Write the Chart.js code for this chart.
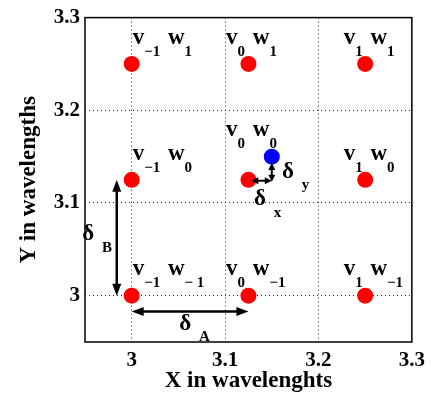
<!DOCTYPE html>
<html>
<head>
<meta charset="utf-8">
<script src="https://cdn.jsdelivr.net/npm/chart.js@4/dist/chart.umd.min.js"></script>
<style>
  html, body { margin: 0; padding: 0; background: #fff; }
  #wrap { width: 431px; height: 397px; }
</style>
</head>
<body>
<div id="wrap"><canvas id="c" width="431" height="397"></canvas></div>
<script>
// Lattice of candidate positions (red) and the true position (blue)
const redX = [3.0, 3.125, 3.25, 3.0, 3.125, 3.25, 3.0, 3.125, 3.25];
const redY = [3.25, 3.25, 3.25, 3.125, 3.125, 3.125, 3.0, 3.0, 3.0];
const blueX = [3.15];
const blueY = [3.15];

// Axis ticks
const tickValues = [3.0, 3.1, 3.2, 3.3];
const tickLabels = ['3', '3.1', '3.2', '3.3'];

// Point labels v_i w_j, anchored at the baseline start
const labelV = ['\u22121', '0', '1', '\u22121', '0', '1', '\u22121', '0', '1'];
const labelW = ['1', '1', '1', '0', '0', '0', '\u2212 1', '\u22121', '\u22121'];
const labelX = [3.001, 3.101, 3.227, 3.001, 3.101, 3.227, 3.001, 3.101, 3.227];
const labelY = [3.271, 3.271, 3.271, 3.146, 3.172, 3.146, 3.022, 3.022, 3.022];

// Double-headed spacing arrows (start / end)
const arrowX0 = [3.0, 2.984, 3.128, 3.15];
const arrowY0 = [2.983, 3.0, 3.124, 3.143];
const arrowX1 = [3.125, 2.984, 3.15, 3.15];
const arrowY1 = [2.983, 3.125, 3.124, 3.123];

// Delta labels
const deltaSub = ['A', 'B', 'x', 'y'];
const deltaX = [3.051, 2.947, 3.131, 3.161];
const deltaY = [2.963, 3.060, 3.0975, 3.127];

const FAMILY = "'Liberation Serif', 'Times New Roman', serif";
const MAIN_FONT = 'bold 23px ' + FAMILY;
const SUB_FONT = 'bold 15px ' + FAMILY;
const SUB_DROP = 11.5;
const WORD_GAP = 2;

function drawRich(ctx, x, y, parts) {
  let cx = x;
  for (const [t, sub] of parts) {
    ctx.font = sub ? SUB_FONT : MAIN_FONT;
    ctx.fillText(t, cx, sub ? y + SUB_DROP : y);
    cx += ctx.measureText(t).width + (t === ' ' ? WORD_GAP : 0);
  }
}

function head(ctx, x, y, ang, len, half) {
  const c = Math.cos(ang), s = Math.sin(ang);
  ctx.beginPath();
  ctx.moveTo(x, y);
  ctx.lineTo(x - len * c + half * s, y - len * s - half * c);
  ctx.lineTo(x - len * c - half * s, y - len * s + half * c);
  ctx.closePath();
  ctx.fill();
}

function doubleArrow(ctx, x0, y0, x1, y1) {
  const L = Math.hypot(x1 - x0, y1 - y0);
  const big = L > 50;
  const len = big ? 12 : 7;
  const half = big ? 4.5 : 3.5;
  const ang = Math.atan2(y1 - y0, x1 - x0);
  const c = Math.cos(ang), s = Math.sin(ang);
  ctx.lineWidth = big ? 2.5 : 2;
  ctx.beginPath();
  ctx.moveTo(x0 + (len - 1) * c, y0 + (len - 1) * s);
  ctx.lineTo(x1 - (len - 1) * c, y1 - (len - 1) * s);
  ctx.stroke();
  head(ctx, x1, y1, ang, len, half);
  head(ctx, x0, y0, ang + Math.PI, len, half);
}

const annotations = {
  id: 'annotations',
  afterDraw(chart) {
    const { ctx, chartArea: a } = chart;
    const sx = chart.scales.x, sy = chart.scales.y;
    ctx.save();
    // axes box
    ctx.strokeStyle = '#000';
    ctx.lineWidth = 1.5;
    ctx.strokeRect(a.left, a.top, a.right - a.left, a.bottom - a.top);

    ctx.fillStyle = '#000';
    ctx.strokeStyle = '#000';
    ctx.lineCap = 'butt';
    for (let i = 0; i < arrowX0.length; i++) {
      doubleArrow(ctx,
        sx.getPixelForValue(arrowX0[i]), sy.getPixelForValue(arrowY0[i]),
        sx.getPixelForValue(arrowX1[i]), sy.getPixelForValue(arrowY1[i]));
    }

    ctx.textAlign = 'left';
    ctx.textBaseline = 'alphabetic';
    for (let i = 0; i < labelV.length; i++) {
      drawRich(ctx, sx.getPixelForValue(labelX[i]), sy.getPixelForValue(labelY[i]),
        [['v', 0], [labelV[i], 1], [' ', 0], ['w', 0], [labelW[i], 1]]);
    }
    for (let i = 0; i < deltaSub.length; i++) {
      drawRich(ctx, sx.getPixelForValue(deltaX[i]), sy.getPixelForValue(deltaY[i]),
        [['\u03b4', 0], [' ', 0], [deltaSub[i], 1]]);
    }
    ctx.restore();
  }
};

const tickFont = { family: FAMILY, size: 21, weight: 'bold' };
const titleFont = { family: FAMILY, size: 23, weight: 'bold' };
const gridOpts = { color: '#222', lineWidth: 1, drawTicks: false };
const borderOpts = { display: false, dash: [1, 3] };
const tickLabel = v => {
  const k = tickValues.findIndex(t => Math.abs(t - v) < 1e-9);
  return k < 0 ? '' : tickLabels[k];
};

new Chart(document.getElementById('c'), {
  type: 'scatter',
  data: {
    datasets: [
      {
        data: redX.map((x, i) => ({ x, y: redY[i] })),
        backgroundColor: '#ff0000',
        borderWidth: 0,
        pointRadius: 8,
        pointHoverRadius: 8
      },
      {
        data: blueX.map((x, i) => ({ x, y: blueY[i] })),
        backgroundColor: '#0000ff',
        borderWidth: 0,
        pointRadius: 8,
        pointHoverRadius: 8
      }
    ]
  },
  options: {
    responsive: false,
    animation: false,
    devicePixelRatio: 1,
    layout: { padding: { top: 12, right: 17, left: 0, bottom: 0 } },
    plugins: { legend: { display: false }, tooltip: { enabled: false } },
    scales: {
      x: {
        type: 'linear',
        min: 2.95,
        max: 3.3,
        afterBuildTicks: s => { s.ticks = tickValues.map(v => ({ value: v })); },
        afterFit: s => { s.height = 55; },
        ticks: { callback: tickLabel, font: tickFont, color: '#000', padding: 6, maxRotation: 0, autoSkip: false },
        grid: gridOpts,
        border: borderOpts,
        title: { display: true, text: 'X in wavelenghts', font: titleFont, color: '#000', padding: { top: 0, bottom: 2 } }
      },
      y: {
        type: 'linear',
        min: 2.95,
        max: 3.3,
        afterBuildTicks: s => { s.ticks = tickValues.map(v => ({ value: v })); },
        afterFit: s => { s.width = 85; },
        ticks: { callback: tickLabel, font: tickFont, color: '#000', padding: 5, autoSkip: false },
        grid: gridOpts,
        border: borderOpts,
        title: { display: true, text: 'Y in wavelengths', font: titleFont, color: '#000', padding: { top: 15, bottom: 0 } }
      }
    }
  },
  plugins: [annotations]
});
</script>
</body>
</html>
